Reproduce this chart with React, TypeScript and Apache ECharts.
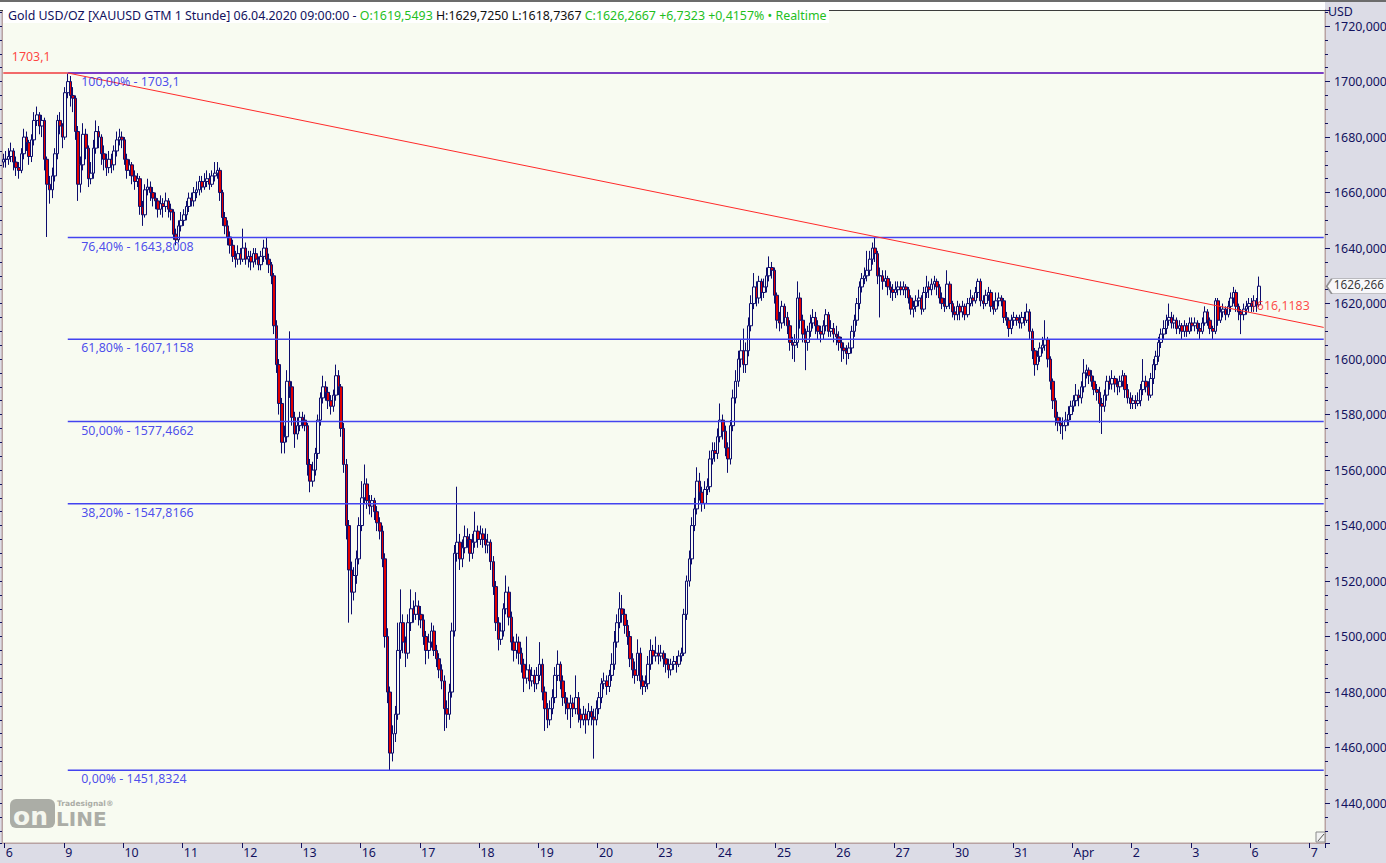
import React, { useEffect, useRef } from "react";
import * as echarts from "echarts";

// [close, high, low] per hourly bar; open = previous close
type Bar = [number, number, number];

const FIRST_OPEN = 1671;

const mar05: Bar[] = [[1672, 1674, 1669]];
const mar06: Bar[] = [[1672,1675,1669],[1673,1676,1670],[1675,1678,1671],[1671,1676,1668],[1669,1673,1666],[1668,1671,1665],[1674,1676,1667],[1680,1683,1672],[1678,1682,1675],[1673,1679,1670],[1679,1681,1671],[1686,1689,1677],[1688,1691,1684],[1684,1689,1681],[1686,1688,1680],[1672,1687,1668],[1663,1673,1644],[1661,1666,1656],[1666,1669,1658],[1674,1676,1664],[1686,1688,1672],[1684,1689,1681],[1680,1685,1676]];
const mar09: Bar[] = [[1696,1698,1679],[1700,1703.1,1694],[1695,1702,1691],[1694,1698,1689],[1682,1695,1679],[1663,1684,1657],[1670,1673,1660],[1681,1685,1668],[1676,1683,1672],[1665,1677,1662],[1667,1671,1663],[1676,1679,1665],[1682,1686,1674],[1680,1684,1676],[1674,1681,1670],[1672,1677,1668],[1669,1674,1666],[1672,1675,1667],[1670,1674,1667],[1675,1677,1668],[1679,1682,1673],[1680,1683,1677],[1679,1682,1676]];
const mar10: Bar[] = [[1672,1680,1670],[1668,1674,1665],[1670,1672,1666],[1666,1671,1663],[1664,1668,1661],[1665,1667,1662],[1655,1666,1652],[1652,1657,1648],[1661,1663,1651],[1662,1665,1659],[1660,1664,1657],[1658,1662,1655],[1657,1660,1654],[1654,1658,1651],[1656,1659,1652],[1655,1658,1651],[1657,1660,1653],[1654,1658,1651],[1653,1656,1650],[1645,1654,1643],[1643,1647,1641],[1648,1650,1642],[1650,1653,1646]];
const mar11: Bar[] = [[1652,1654,1648],[1655,1657,1650],[1658,1660,1653],[1657,1660,1655],[1660,1662,1655],[1661,1664,1658],[1664,1666,1659],[1662,1666,1660],[1664,1667,1661],[1665,1668,1662],[1663,1667,1661],[1666,1668,1662],[1667,1671,1664],[1668,1671,1665],[1660,1669,1657],[1651,1661,1648],[1648,1653,1645],[1644,1650,1641],[1641,1646,1638],[1637,1643,1635],[1636,1639,1633],[1638,1641,1634],[1636,1640,1634]];
const mar12: Bar[] = [[1640,1647,1635],[1636,1642,1634],[1637,1639,1633],[1635,1639,1632],[1638,1640,1633],[1636,1640,1634],[1634,1637,1632],[1637,1639,1632],[1640,1643,1635],[1636,1644,1634],[1634,1638,1631],[1630,1635,1627],[1612,1631,1609],[1598,1614,1595],[1584,1600,1580],[1570,1586,1566],[1572,1576,1566],[1592,1596,1570],[1590,1610,1586],[1579,1592,1576],[1573,1581,1568],[1576,1579,1571],[1579,1581,1574]];
const mar13: Bar[] = [[1578,1581,1575],[1576,1580,1574],[1562,1577,1558],[1556,1564,1552],[1560,1563,1554],[1566,1568,1558],[1578,1580,1564],[1586,1588,1576],[1590,1594,1584],[1588,1592,1585],[1585,1590,1582],[1583,1587,1580],[1587,1589,1581],[1594,1598,1585],[1590,1596,1587],[1575,1591,1572],[1562,1577,1559],[1540,1564,1535],[1524,1542,1505],[1516,1527,1508],[1522,1525,1513],[1528,1531,1519],[1540,1543,1526]];
const mar16: Bar[] = [[1550,1556,1538],[1555,1562,1548],[1549,1557,1546],[1547,1551,1544],[1549,1551,1543],[1545,1550,1542],[1541,1547,1538],[1538,1543,1535],[1528,1540,1525],[1500,1530,1496],[1480,1503,1476],[1458,1482,1451.8324],[1465,1468,1455],[1472,1475,1462],[1495,1505,1470],[1505,1517,1492],[1498,1508,1494],[1494,1500,1489],[1505,1508,1492],[1510,1517,1502],[1508,1513,1505],[1511,1516,1506],[1508,1513,1504]];
const mar17: Bar[] = [[1506,1511,1503],[1500,1508,1497],[1495,1502,1490],[1498,1501,1492],[1502,1505,1496],[1495,1504,1493],[1492,1497,1489],[1488,1494,1485],[1484,1490,1481],[1474,1486,1466],[1472,1477,1467],[1480,1483,1470],[1502,1505,1478],[1530,1533,1500],[1534,1554,1527],[1528,1537,1524],[1532,1535,1525],[1536,1540,1530],[1535,1539,1532],[1530,1537,1527],[1534,1537,1528],[1538,1545,1532],[1535,1540,1532]];
const mar18: Bar[] = [[1537,1540,1533],[1535,1539,1532],[1533,1539,1530],[1534,1537,1530],[1527,1535,1524],[1518,1529,1515],[1505,1520,1502],[1499,1507,1495],[1502,1505,1497],[1510,1512,1500],[1516,1522,1508],[1507,1518,1504],[1498,1509,1495],[1495,1500,1491],[1498,1501,1492],[1494,1500,1490],[1490,1496,1487],[1485,1492,1480],[1488,1500,1483],[1484,1490,1481],[1486,1489,1482],[1483,1488,1480],[1486,1489,1481]];
const mar19: Bar[] = [[1490,1498,1484],[1480,1492,1477],[1474,1482,1466],[1470,1476,1467],[1474,1477,1468],[1478,1481,1472],[1486,1489,1476],[1490,1495,1484],[1484,1491,1481],[1478,1486,1475],[1476,1480,1472],[1474,1478,1470],[1476,1479,1467],[1474,1478,1471],[1478,1486,1472],[1472,1480,1469],[1470,1474,1467],[1472,1475,1468],[1470,1474,1465],[1473,1476,1468],[1471,1475,1468],[1470,1474,1456],[1474,1477,1468]];
const mar20: Bar[] = [[1478,1480,1472],[1483,1485,1476],[1484,1487,1481],[1482,1486,1479],[1486,1488,1480],[1490,1494,1484],[1498,1502,1488],[1505,1508,1496],[1510,1516,1503],[1508,1515,1505],[1504,1510,1501],[1500,1506,1497],[1492,1502,1489],[1488,1494,1485],[1486,1491,1483],[1494,1499,1484],[1484,1496,1481],[1482,1486,1479],[1483,1486,1480],[1490,1493,1481],[1495,1499,1488],[1493,1497,1490],[1494,1500,1491]];
const mar23: Bar[] = [[1493,1497,1490],[1494,1497,1491],[1492,1495,1489],[1490,1494,1487],[1488,1492,1485],[1490,1492,1486],[1491,1493,1488],[1490,1493,1487],[1493,1495,1489],[1494,1496,1491],[1508,1510,1493],[1520,1522,1506],[1528,1531,1518],[1540,1543,1526],[1546,1550,1538],[1556,1561,1544],[1552,1559,1549],[1548,1554,1545],[1553,1556,1546],[1554,1557,1551],[1564,1567,1552],[1567,1570,1562],[1566,1570,1563]];
const mar24: Bar[] = [[1572,1575,1564],[1578,1584,1570],[1574,1580,1571],[1568,1576,1565],[1564,1570,1559],[1576,1578,1562],[1586,1589,1574],[1592,1596,1584],[1600,1603,1590],[1603,1607,1597],[1598,1611,1595],[1603,1606,1595],[1612,1615,1601],[1620,1623,1610],[1626,1631,1618],[1622,1628,1619],[1628,1630,1620],[1624,1629,1621],[1626,1629,1622],[1630,1633,1624],[1633,1637,1628],[1632,1635,1629],[1623,1633,1620]];
const mar25: Bar[] = [[1614,1624,1611],[1613,1617,1610],[1619,1621,1611],[1615,1620,1612],[1612,1617,1609],[1606,1614,1603],[1605,1608,1600],[1606,1609,1599],[1622,1628,1604],[1614,1624,1611],[1609,1616,1606],[1606,1611,1596],[1610,1612,1603],[1613,1616,1608],[1615,1618,1611],[1612,1617,1609],[1610,1614,1607],[1609,1612,1606],[1612,1614,1607],[1616,1618,1610],[1610,1617,1608],[1611,1614,1608],[1609,1613,1606]];
const mar26: Bar[] = [[1608,1612,1605],[1606,1610,1603],[1604,1608,1599],[1603,1606,1600],[1602,1605,1598],[1604,1606,1600],[1610,1612,1602],[1614,1616,1608],[1620,1622,1612],[1626,1628,1618],[1629,1631,1624],[1630,1633,1627],[1632,1639,1628],[1636,1639,1630],[1640,1642,1634],[1638,1643.8,1635],[1630,1639,1627],[1630,1633,1615],[1628,1632,1625],[1629,1632,1626],[1626,1630,1623],[1625,1628,1622],[1624,1627,1621]];
const mar27: Bar[] = [[1625,1628,1622],[1626,1628,1623],[1625,1628,1623],[1626,1628,1623],[1625,1627,1622],[1622,1626,1620],[1618,1623,1616],[1619,1621,1615],[1621,1623,1617],[1622,1625,1619],[1618,1623,1616],[1624,1626,1617],[1626,1630,1622],[1625,1628,1622],[1627,1629,1623],[1628,1630,1625],[1626,1629,1623],[1622,1627,1620],[1620,1624,1618],[1619,1622,1617],[1627,1632,1618],[1620,1628,1618],[1617,1621,1615]];
const mar30: Bar[] = [[1616,1619,1614],[1619,1621,1614],[1617,1620,1614],[1619,1621,1615],[1616,1620,1614],[1620,1622,1615],[1622,1625,1619],[1621,1623,1619],[1624,1626,1620],[1628,1629,1622],[1621,1629,1619],[1620,1623,1618],[1623,1625,1619],[1624,1626,1621],[1619,1625,1617],[1618,1621,1616],[1621,1624,1617],[1622,1624,1619],[1621,1623,1619],[1615,1622,1613],[1614,1617,1612],[1611,1615,1608],[1614,1616,1609]];
const mar31: Bar[] = [[1615,1617,1612],[1614,1616,1612],[1613,1616,1611],[1615,1617,1611],[1614,1617,1612],[1617,1620,1613],[1610,1618,1607],[1603,1611,1600],[1598,1604,1594],[1601,1603,1596],[1604,1606,1599],[1605,1608,1602],[1607,1614,1603],[1600,1608,1597],[1592,1601,1589],[1585,1593,1582],[1579,1586,1576],[1577,1581,1574],[1576,1579,1573],[1576,1579,1571],[1578,1581,1574],[1580,1583,1576],[1583,1585,1578]];
const apr01: Bar[] = [[1585,1587,1581],[1587,1591,1583],[1586,1589,1583],[1590,1592,1584],[1595,1600,1588],[1596,1598,1593],[1594,1597,1591],[1592,1596,1590],[1589,1594,1587],[1588,1591,1585],[1584,1590,1577],[1583,1586,1573],[1587,1589,1581],[1592,1594,1585],[1591,1594,1589],[1593,1596,1589],[1591,1594,1588],[1590,1593,1587],[1592,1594,1588],[1594,1596,1590],[1589,1595,1586],[1586,1591,1584],[1584,1588,1582]];
const apr02: Bar[] = [[1585,1587,1582],[1584,1587,1582],[1585,1588,1583],[1589,1591,1583],[1592,1600,1587],[1590,1594,1588],[1587,1592,1585],[1593,1595,1586],[1598,1600,1591],[1601,1603,1596],[1606,1608,1599],[1609,1611,1604],[1611,1614,1607],[1614,1616,1609],[1615,1620,1612],[1613,1617,1611],[1614,1616,1611],[1611,1615,1609],[1612,1614,1609],[1610,1613,1607],[1612,1614,1608],[1610,1613,1608],[1613,1615,1609]];
const apr03: Bar[] = [[1612,1615,1610],[1613,1615,1610],[1611,1614,1609],[1610,1613,1607],[1613,1615,1609],[1617,1619,1612],[1614,1618,1612],[1611,1615,1609],[1610,1612,1607],[1621,1622,1609],[1614,1622,1612],[1617,1619,1613],[1618,1620,1615],[1616,1619,1614],[1619,1621,1615],[1622,1624,1617],[1624,1626,1620],[1619,1625,1617],[1617,1620,1614],[1616,1618,1609],[1618,1620,1614],[1619,1621,1616],[1620,1622,1617]];
const apr06: Bar[] = [[1619,1622,1617],[1621,1623,1617],[1619.5493,1622,1617],[1626.2667,1629.725,1618.7367]];

const dayLabels = ["5","6","9","10","11","12","13","16","17","18","19","20","23","24","25","26","27","30","31","Apr","2","3","6","7"];
const dayData: Bar[][] = [mar05, mar06, mar09, mar10, mar11, mar12, mar13, mar16, mar17, mar18, mar19, mar20, mar23, mar24, mar25, mar26, mar27, mar30, mar31, apr01, apr02, apr03, apr06, []];

const SWING_HIGH = 1703.1;
const fibLevels = [1703.1, 1643.8008, 1607.1158, 1577.4662, 1547.8166, 1451.8324];
const fibTexts = ["100,00% - 1703,1", "76,40% - 1643,8008", "61,80% - 1607,1158", "50,00% - 1577,4662", "38,20% - 1547,8166", "0,00% - 1451,8324"];
const TREND_AT_LAST = 1616.1183;
const LAST_CLOSE = 1626.2667;
const HEADER_TITLE = "Gold USD/OZ [XAUUSD GTM 1 Stunde] 06.04.2020 09:00:00 - ";
const HEADER_OPEN = "O:1619,5493 ";
const HEADER_HL = "H:1629,7250 L:1618,7367 ";
const HEADER_CLOSE = "C:1626,2667 +6,7323 +0,4157% \u2022 Realtime";

const FONT = '"Noto Sans", "DejaVu Sans", sans-serif';
const FS = 12.4;
const NAVY = "#12125e";
const BORDER = "#b8a2a2";

export default function App() {
  const ref = useRef<HTMLDivElement>(null);
  useEffect(() => {
    if (!ref.current) return;
    const chart = echarts.init(ref.current, null, { renderer: "svg" });

    const slots = dayLabels.map((_, i) => (i === 0 ? 1 : i === dayLabels.length - 1 ? 6 : 23));
    const categories: string[] = [];
    const dayStart = new Set<number>();
    const candles: any[] = [];
    let prev = FIRST_OPEN;
    dayLabels.forEach((lab, d) => {
      const base = categories.length;
      for (let h = 0; h < slots[d]; h++) {
        if (h === 0 && d > 0) dayStart.add(base);
        categories.push(lab + "|" + h);
      }
      dayData[d].forEach(([c, hi, lo], j) => {
        candles[base + j] = [prev, c, Math.min(lo, prev, c), Math.max(hi, prev, c)];
        prev = c;
      });
    });
    const lastIdx = candles.length - 1;
    const endIdx = categories.length - 1;
    const highIdx = candles.findIndex((c) => c && c[3] === SWING_HIGH);
    const trendEnd = SWING_HIGH + (TREND_AT_LAST - SWING_HIGH) * (endIdx - highIdx) / (lastIdx - highIdx);

    const showDay = (i: number) => dayStart.has(i);
    const yFmt = (v: number) => (Math.abs(v % 20) < 1e-6 ? v.toFixed(3).replace(".", ",") : "");
    const YMIN = 1425.6, YMAX = 1725.8;

    const lineSeries = (name: string, data: number[][], color: string, width: number) => ({
      type: "line", name, data, symbol: "none", showSymbol: false, silent: true, z: 4,
      lineStyle: { color, width }, xAxisIndex: 0, yAxisIndex: 0,
    });

    const labelPts: any[] = [
      { value: [0, SWING_HIGH], label: { formatter: "1703,1", color: "#ff1010", position: [9, -22] } },
      ...fibLevels.map((lv, i) => ({ value: [highIdx, lv], label: { formatter: fibTexts[i], color: "#2020ea", position: [14, 3] } })),
      { value: [lastIdx, TREND_AT_LAST], label: { formatter: "1616,1183", color: "#ff1a1a", position: [-9, -14] } },
    ];

    const option: any = {
      animation: false,
      backgroundColor: "#dcdce6",
      textStyle: { fontFamily: FONT },
      grid: { left: 2, right: 61, top: 10, bottom: 20, show: true, backgroundColor: "#f8fbf1", borderColor: BORDER, borderWidth: 1, containLabel: false, outerBoundsMode: "none" },
      xAxis: {
        type: "category", data: categories, boundaryGap: true,
        axisLine: { show: true, lineStyle: { color: BORDER } },
        axisTick: { show: true, interval: showDay, length: 5, lineStyle: { color: NAVY } },
        axisLabel: { interval: showDay, formatter: (v: string) => v.split("|")[0], color: NAVY, fontSize: FS, fontFamily: FONT, margin: 3, align: "left" },
        splitLine: { show: false },
      },
      yAxis: [
        {
          type: "value", position: "right", min: YMIN, max: YMAX, minInterval: 20, maxInterval: 20,
          axisLine: { show: true, lineStyle: { color: BORDER } },
          axisTick: { show: true, length: 5, lineStyle: { color: NAVY } },
          axisLabel: { formatter: yFmt, color: NAVY, fontSize: FS, fontFamily: FONT, margin: 9 },
          splitLine: { show: false },
        },
        {
          type: "value", position: "right", min: YMIN, max: YMAX, minInterval: 5, maxInterval: 5,
          axisLine: { show: false }, axisTick: { show: true, length: 3, lineStyle: { color: NAVY } },
          axisLabel: { show: false }, splitLine: { show: false },
        },
        {
          type: "value", position: "left", min: YMIN, max: YMAX, minInterval: 5, maxInterval: 5,
          axisLine: { show: true, lineStyle: { color: BORDER } }, axisTick: { show: true, length: 2, lineStyle: { color: NAVY } },
          axisLabel: { show: false }, splitLine: { show: false },
        },
      ],
      series: [
        {
          type: "candlestick", name: "XAUUSD", data: candles, barWidth: 3, z: 3,
          itemStyle: { color: "#f8fbf1", color0: "#e00000", borderColor: "#0c0c6c", borderColor0: "#0c0c6c", borderWidth: 1 },
        },
        lineSeries("swing", [[0, SWING_HIGH], [highIdx, SWING_HIGH]], "#f26a6a", 2),
        lineSeries("fib100", [[highIdx, fibLevels[0]], [endIdx, fibLevels[0]]], "#7b3dc4", 2),
        ...fibLevels.slice(1).map((lv, i) => lineSeries("fib" + i, [[highIdx, lv], [endIdx, lv]], "#4343f0", 1.5)),
        lineSeries("trend", [[highIdx, SWING_HIGH], [endIdx, trendEnd]], "#ff2a2a", 1),
        {
          type: "scatter", name: "labels", data: labelPts, symbolSize: 1, silent: true, z: 6,
          itemStyle: { color: "rgba(0,0,0,0)" },
          label: { show: true, fontFamily: FONT, fontSize: FS },
        },
        {
          // last-price tag on the price axis
          type: "scatter", name: "lastPrice", silent: true, z: 8, clip: false,
          data: [[endIdx, LAST_CLOSE]],
          symbol: "path://M0,7 L5,0 L62,0 L62,14 L5,14 Z",
          symbolSize: [62, 15], symbolOffset: [34, 0], symbolKeepAspect: false,
          itemStyle: { color: "#ffffff", borderColor: "#7a7a7a", borderWidth: 1 },
          label: { show: true, formatter: "1626,266", position: [8, 0], color: "#000000", fontFamily: FONT, fontSize: 11.8 },
        },
      ],
      graphic: [
        { type: "rect", z: 20, silent: true, shape: { x: 0, y: 0, width: 1386, height: 2 }, style: { fill: "#6c6c6c" } },
        { type: "rect", z: 20, silent: true, shape: { x: 0, y: 2, width: 1325, height: 8 }, style: { fill: "#ffffff" } },
        { type: "line", z: 20, silent: true, shape: { x1: 0, y1: 10.5, x2: 1325, y2: 10.5 }, style: { stroke: "#3c3c3c", lineWidth: 1 } },
        { type: "rect", z: 21, silent: true, shape: { x: 3, y: 3, width: 826, height: 20 }, style: { fill: "#ffffff" } },
        {
          type: "text", z: 22, silent: true, x: 8, y: 15,
          style: {
            text: "{a|" + HEADER_TITLE + "}{g|" + HEADER_OPEN + "}{b|" + HEADER_HL + "}{g|" + HEADER_CLOSE + "}",
            verticalAlign: "middle", fontFamily: FONT, fontSize: FS,
            rich: {
              a: { fill: NAVY, fontFamily: FONT, fontSize: FS },
              g: { fill: "#1fbf1f", fontFamily: FONT, fontSize: FS },
              b: { fill: "#111111", fontFamily: FONT, fontSize: FS },
            },
          },
        },
        { type: "text", z: 22, silent: true, x: 1328, y: 11, style: { text: "USD", fill: NAVY, fontFamily: FONT, fontSize: FS, verticalAlign: "middle" } },
        // Tradesignal online logo
        { type: "rect", z: 1, silent: true, shape: { x: 10, y: 799, width: 45, height: 29, r: 6 }, style: { fill: "#abada6" } },
        { type: "text", z: 2, silent: true, x: 13, y: 829, style: { text: "on", fill: "#f4f6ee", fontFamily: '"DejaVu Sans", sans-serif', fontWeight: "bold", fontSize: 25, verticalAlign: "bottom" } },
        { type: "text", z: 2, silent: true, x: 56, y: 829, style: { text: "LINE", fill: "#abada6", fontFamily: '"DejaVu Sans", sans-serif', fontWeight: "bold", fontSize: 20, verticalAlign: "bottom" } },
        { type: "text", z: 2, silent: true, x: 57, y: 803, style: { text: "Tradesignal\u00ae", fill: "#abada6", fontFamily: '"DejaVu Sans", sans-serif', fontWeight: "bold", fontSize: 7.5, verticalAlign: "middle" } },
        // corner resize icon
        { type: "rect", z: 20, silent: true, shape: { x: 1316, y: 832, width: 9, height: 10 }, style: { fill: "#f2f2f2", stroke: "#8a8a8a", lineWidth: 1 } },
        { type: "line", z: 21, silent: true, shape: { x1: 1318, y1: 841, x2: 1324, y2: 834 }, style: { stroke: "#555555", lineWidth: 1 } },
      ],
    };

    chart.setOption(option);
    return () => chart.dispose();
  }, []);

  return <div ref={ref} style={{ position: "fixed", left: 0, top: 0, width: 1386, height: 863 }} />;
}
